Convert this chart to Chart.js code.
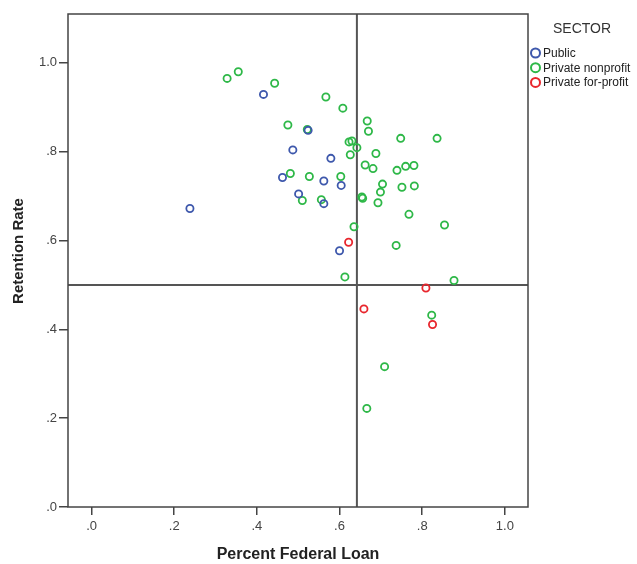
<!DOCTYPE html>
<html>
<head>
<meta charset="utf-8">
<script src="https://cdn.jsdelivr.net/npm/chart.js@4/dist/chart.umd.min.js"></script>
<style>
  body { margin: 0; background: #fff; }
</style>
</head>
<body>
<canvas id="myChart" width="637" height="564"></canvas>
<script>
// values
var sectors = ["Public", "Private nonprofit", "Private for-profit"];
var sectorColors = ["#3e58ac", "#2eb848", "#e8262d"];

var publicLoan      = [0.416, 0.524, 0.487, 0.462, 0.501, 0.238, 0.579, 0.562, 0.604, 0.562, 0.600];
var publicRetention = [0.929, 0.848, 0.804, 0.742, 0.705, 0.672, 0.785, 0.734, 0.724, 0.683, 0.577];

var nonprofitLoan = [0.328, 0.355, 0.443, 0.475, 0.522, 0.481, 0.527, 0.510, 0.567, 0.608,
                     0.667, 0.670, 0.748, 0.836, 0.623, 0.630, 0.642, 0.626, 0.688, 0.662,
                     0.681, 0.739, 0.760, 0.780, 0.603, 0.704, 0.699, 0.751, 0.781, 0.556,
                     0.654, 0.656, 0.693, 0.768, 0.854, 0.635, 0.737, 0.613, 0.877, 0.823,
                     0.709, 0.666];
var nonprofitRetention = [0.965, 0.980, 0.954, 0.860, 0.850, 0.751, 0.744, 0.690, 0.923, 0.898,
                          0.869, 0.846, 0.830, 0.830, 0.822, 0.824, 0.809, 0.793, 0.796, 0.770,
                          0.762, 0.758, 0.767, 0.769, 0.744, 0.727, 0.709, 0.720, 0.723, 0.692,
                          0.698, 0.695, 0.685, 0.659, 0.635, 0.631, 0.589, 0.518, 0.510, 0.432,
                          0.316, 0.222];

var forprofitLoan      = [0.622, 0.809, 0.659, 0.825];
var forprofitRetention = [0.596, 0.493, 0.446, 0.411];

var xTicks = [0, 0.2, 0.4, 0.6, 0.8, 1.0];
var yTicks = [0, 0.2, 0.4, 0.6, 0.8, 1.0];
var xMin = -0.057, xMax = 1.056;
var yMin = 0, yMax = 1.11;

// reference lines
var meanLoan = 0.642;
var retentionCut = 0.5;

function toPoints(xs, ys) {
  var pts = [];
  for (let i = 0; i < xs.length; i++) {
    pts.push({ x: xs[i], y: ys[i] });
  }
  return pts;
}

function tickText(v) {
  var s = Number(v).toFixed(1);
  if (s.charAt(0) == "0") s = s.slice(1);
  return s;
}

var frameAndLegend = {
  id: "frameAndLegend",
  beforeDatasetsDraw: function (chart) {
    var ctx = chart.ctx;
    var a = chart.chartArea;
    var px = chart.scales.x.getPixelForValue(meanLoan);
    var py = chart.scales.y.getPixelForValue(retentionCut);
    ctx.save();
    ctx.strokeStyle = "#555";
    ctx.lineWidth = 2;
    ctx.beginPath();
    ctx.moveTo(px, a.top);
    ctx.lineTo(px, a.bottom);
    ctx.moveTo(a.left, py);
    ctx.lineTo(a.right, py);
    ctx.stroke();
    ctx.strokeStyle = "#444";
    ctx.lineWidth = 1.5;
    ctx.strokeRect(a.left, a.top, a.right - a.left, a.bottom - a.top);
    ctx.restore();
  },
  afterDraw: function (chart) {
    var ctx = chart.ctx;
    ctx.save();
    // y axis title
    ctx.fillStyle = "#222";
    ctx.font = "bold 15px 'Liberation Sans', Arial, sans-serif";
    ctx.textAlign = "center";
    ctx.textBaseline = "middle";
    ctx.translate(19, 251);
    ctx.rotate(-Math.PI / 2);
    ctx.fillText("Retention Rate", 0, 0);
    ctx.restore();

    // legend
    ctx.save();
    ctx.fillStyle = "#333";
    ctx.font = "14px 'Liberation Sans', Arial, sans-serif";
    ctx.textAlign = "center";
    ctx.textBaseline = "middle";
    ctx.fillText("SECTOR", 582, 29);
    ctx.font = "12px 'Liberation Sans', Arial, sans-serif";
    ctx.textAlign = "left";
    chart.data.datasets.forEach(function (ds, i) {
      var y = 53 + i * 14.7;
      ctx.strokeStyle = ds.borderColor;
      ctx.lineWidth = 2;
      ctx.beginPath();
      ctx.arc(535.5, y, 4.5, 0, Math.PI * 2);
      ctx.stroke();
      ctx.fillStyle = "#222";
      ctx.fillText(ds.label, 543, y + 0.5);
    });
    ctx.restore();
  }
};

var datasets = [
  toPoints(publicLoan, publicRetention),
  toPoints(nonprofitLoan, nonprofitRetention),
  toPoints(forprofitLoan, forprofitRetention)
].map(function (pts, i) {
  return {
    label: sectors[i],
    data: pts,
    borderColor: sectorColors[i],
    backgroundColor: "rgba(0,0,0,0)",
    pointRadius: 3.6,
    pointBorderWidth: 1.8,
    pointHoverRadius: 3.6
  };
});

var ctx = document.getElementById("myChart");
var myChart = new Chart(ctx, {
  type: "scatter",
  data: { datasets: datasets },
  plugins: [frameAndLegend],
  options: {
    responsive: false,
    animation: false,
    devicePixelRatio: 1,
    layout: { padding: { left: 0, top: 14, right: 109, bottom: 0 } },
    plugins: {
      legend: { display: false },
      tooltip: { enabled: false }
    },
    scales: {
      x: {
        type: "linear",
        min: xMin,
        max: xMax,
        afterBuildTicks: function (s) {
          s.ticks = xTicks.map(function (v) { return { value: v }; });
        },
        afterFit: function (s) { s.height = 57; },
        border: { display: false },
        grid: { drawOnChartArea: false, drawTicks: true, tickLength: 8, color: "#444", lineWidth: 1.5 },
        ticks: {
          padding: 4,
          color: "#444",
          font: { family: "'Liberation Sans', Arial, sans-serif", size: 13 },
          callback: tickText
        },
        title: {
          display: true,
          text: "Percent Federal Loan",
          color: "#222",
          padding: { top: 0, bottom: 1 },
          font: { family: "'Liberation Sans', Arial, sans-serif", size: 16, weight: "bold", lineHeight: 1 }
        }
      },
      y: {
        type: "linear",
        min: yMin,
        max: yMax,
        afterBuildTicks: function (s) {
          s.ticks = yTicks.map(function (v) { return { value: v }; });
        },
        afterFit: function (s) { s.width = 68; },
        border: { display: false },
        grid: { drawOnChartArea: false, drawTicks: true, tickLength: 9, color: "#444", lineWidth: 1.5 },
        ticks: {
          padding: 2,
          color: "#444",
          font: { family: "'Liberation Sans', Arial, sans-serif", size: 13 },
          callback: tickText
        },
        title: { display: false }
      }
    }
  }
});
</script>
</body>
</html>
